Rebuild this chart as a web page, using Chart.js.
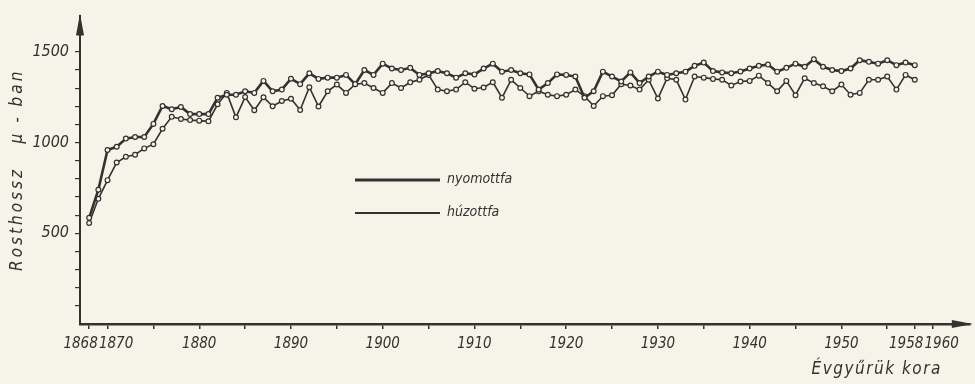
<!DOCTYPE html>
<html>
<head>
<meta charset="utf-8">
<script src="https://cdn.jsdelivr.net/npm/chart.js@4.4.1/dist/chart.umd.min.js"></script>
<style>
  html, body { margin: 0; padding: 0; background: #f6f3e9; }
  #wrap { width: 975px; height: 384px; }
</style>
</head>
<body>
<div id="wrap"><canvas id="fiberChart"></canvas></div>
<script>
// évgyűrű kora (év)
const years = [
  1868, 1869, 1870, 1871, 1872, 1873, 1874, 1875, 1876, 1877,
  1878, 1879, 1880, 1881, 1882, 1883, 1884, 1885, 1886, 1887,
  1888, 1889, 1890, 1891, 1892, 1893, 1894, 1895, 1896, 1897,
  1898, 1899, 1900, 1901, 1902, 1903, 1904, 1905, 1906, 1907,
  1908, 1909, 1910, 1911, 1912, 1913, 1914, 1915, 1916, 1917,
  1918, 1919, 1920, 1921, 1922, 1923, 1924, 1925, 1926, 1927,
  1928, 1929, 1930, 1931, 1932, 1933, 1934, 1935, 1936, 1937,
  1938, 1939, 1940, 1941, 1942, 1943, 1944, 1945, 1946, 1947,
  1948, 1949, 1950, 1951, 1952, 1953, 1954, 1955, 1956, 1957,
  1958
];

// rosthossz µ-ban, nyomott fa
const nyomottfa = [
  585, 740, 959, 977, 1022, 1031, 1031, 1103, 1202, 1184,
  1196, 1157, 1157, 1157, 1247, 1264, 1264, 1283, 1274, 1340,
  1283, 1292, 1352, 1322, 1382, 1351, 1358, 1358, 1373, 1322,
  1400, 1373, 1435, 1408, 1400, 1412, 1373, 1382, 1394, 1382,
  1358, 1382, 1376, 1408, 1435, 1391, 1400, 1382, 1376, 1292,
  1328, 1376, 1373, 1364, 1247, 1283, 1391, 1364, 1337, 1387,
  1328, 1364, 1391, 1373, 1382, 1391, 1423, 1441, 1394, 1387,
  1382, 1392, 1408, 1423, 1430, 1391, 1412, 1435, 1418, 1459,
  1418, 1400, 1394, 1408, 1454, 1445, 1435, 1454, 1427, 1441,
  1427
];

// rosthossz µ-ban, húzott fa
const huzottfa = [
  557, 690, 793, 890, 922, 933, 968, 991, 1076, 1142,
  1130, 1124, 1121, 1117, 1211, 1274, 1139, 1251, 1178, 1250,
  1200, 1229, 1242, 1180, 1305, 1199, 1283, 1320, 1274, 1322,
  1328, 1301, 1274, 1328, 1301, 1332, 1346, 1373, 1292, 1283,
  1292, 1333, 1297, 1304, 1333, 1247, 1346, 1301, 1256, 1283,
  1264, 1256, 1264, 1292, 1256, 1202, 1256, 1261, 1322, 1315,
  1292, 1346, 1243, 1355, 1346, 1237, 1364, 1358, 1351, 1346,
  1315, 1337, 1340, 1369, 1328, 1283, 1340, 1261, 1355, 1328,
  1310, 1283, 1320, 1264, 1274, 1346, 1346, 1364, 1292, 1373,
  1346
];

// tengelyek
const xTickYears = [1868, 1870, 1875, 1880, 1885, 1890, 1895, 1900, 1905, 1910,
  1915, 1920, 1925, 1930, 1935, 1940, 1945, 1950, 1955, 1958, 1960];
const xLabels = {
  1868: "1868    ", 1870: "    1870", 1880: "1880", 1890: "1890", 1900: "1900",
  1910: "1910", 1920: "1920", 1930: "1930", 1940: "1940", 1950: "1950",
  1958: "1958    ", 1960: "    1960"
};
const yTickValues = [100, 200, 300, 400, 500, 600, 700, 800, 900, 1000,
  1100, 1200, 1300, 1400, 1500];
const yLabels = [500, 1000, 1500];

const seriesNames = ["nyomottfa", "húzottfa"];
const yTitle = "Rosthossz   μ - ban";
const xTitle = "Évgyűrük kora";

const ink = "#333230";
const paper = "#f6f3e9";
const handFont = "'Liberation Sans Narrow', 'DejaVu Sans Condensed', sans-serif";

const toPoints = (values) => years.map((yr, i) => ({ x: yr, y: values[i] }));

// nyilak, jelmagyarázat, tengelycímek
const decor = {
  id: "decor",
  afterDraw(chart) {
    const { ctx, chartArea: a } = chart;
    ctx.save();
    ctx.fillStyle = ink;
    ctx.strokeStyle = ink;

    // y nyíl
    ctx.beginPath();
    ctx.moveTo(a.left, a.top - 2);
    ctx.lineTo(a.left - 4, a.top + 20);
    ctx.lineTo(a.left + 4, a.top + 20);
    ctx.closePath();
    ctx.fill();

    // x nyíl
    ctx.beginPath();
    ctx.moveTo(a.right + 3, a.bottom);
    ctx.lineTo(a.right - 18, a.bottom - 4);
    ctx.lineTo(a.right - 18, a.bottom + 4);
    ctx.closePath();
    ctx.fill();

    // jelmagyarázat
    const legendX = 355, legendW = 85;
    const rows = [{ y: 180, w: 3 }, { y: 213, w: 1.8 }];
    ctx.font = "italic 14px " + handFont;
    ctx.textBaseline = "middle";
    ctx.textAlign = "left";
    rows.forEach((r, i) => {
      ctx.lineWidth = r.w;
      ctx.beginPath();
      ctx.moveTo(legendX, r.y);
      ctx.lineTo(legendX + legendW, r.y);
      ctx.stroke();
      ctx.fillText(seriesNames[i], legendX + legendW + 7, r.y - 1);
    });

    // y cím
    ctx.save();
    ctx.translate(18, (a.top + a.bottom) / 2);
    ctx.rotate(-Math.PI / 2);
    ctx.textAlign = "center";
    ctx.font = "italic 17px " + handFont;
    ctx.letterSpacing = "3px";
    ctx.fillText(yTitle, 0, 0);
    ctx.restore();

    // x cím
    ctx.textAlign = "right";
    ctx.font = "italic 17px " + handFont;
    ctx.letterSpacing = "1.5px";
    ctx.fillText(xTitle, a.right - 28, 370);
    ctx.restore();
  }
};

new Chart(document.getElementById("fiberChart"), {
  type: "line",
  data: {
    datasets: [
      {
        label: seriesNames[0],
        data: toPoints(nyomottfa),
        borderColor: ink,
        borderWidth: 2.6,
        pointRadius: 2.4,
        pointBorderWidth: 1.2,
        pointBackgroundColor: paper,
        pointBorderColor: ink,
        tension: 0,
      },
      {
        label: seriesNames[1],
        data: toPoints(huzottfa),
        borderColor: ink,
        borderWidth: 1.6,
        pointRadius: 2.4,
        pointBorderWidth: 1.2,
        pointBackgroundColor: paper,
        pointBorderColor: ink,
        tension: 0,
      },
    ],
  },
  options: {
    responsive: true,
    maintainAspectRatio: false,
    animation: false,
    layout: { padding: { top: 8, right: 5 } },
    plugins: {
      legend: { display: false },
      tooltip: { enabled: false },
    },
    scales: {
      x: {
        type: "linear",
        min: 1867,
        max: 1964,
        afterFit: (scale) => { scale.height = 60; },
        afterBuildTicks: (scale) => { scale.ticks = xTickYears.map((v) => ({ value: v })); },
        border: { display: true, color: ink, width: 2.4 },
        grid: { drawOnChartArea: false, drawTicks: true, tickLength: 5, color: ink, lineWidth: 1.5 },
        ticks: {
          autoSkip: false,
          maxRotation: 0,
          padding: 6,
          color: ink,
          font: { family: handFont, style: "italic", size: 15 },
          callback: (v) => xLabels[v] || "",
        },
      },
      y: {
        min: 0,
        max: 1700,
        afterFit: (scale) => { scale.width = 80; },
        afterBuildTicks: (scale) => { scale.ticks = yTickValues.map((v) => ({ value: v })); },
        border: { display: true, color: ink, width: 2 },
        grid: { drawOnChartArea: false, drawTicks: true, tickLength: 5, color: ink, lineWidth: 1.2 },
        ticks: {
          autoSkip: false,
          padding: 6,
          color: ink,
          font: { family: handFont, style: "italic", size: 16 },
          callback: (v) => (yLabels.includes(v) ? String(v) : ""),
        },
      },
    },
  },
  plugins: [decor],
});
</script>
</body>
</html>
